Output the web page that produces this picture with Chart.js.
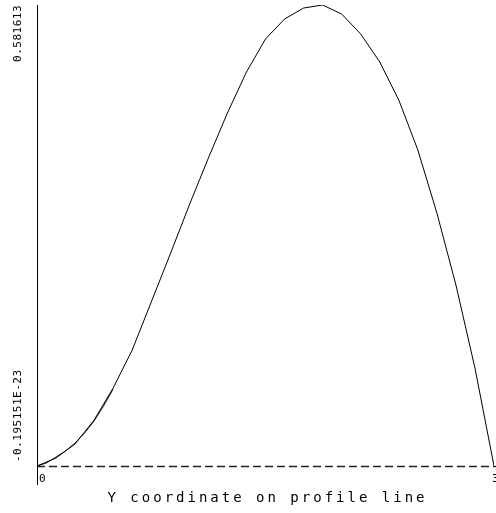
<!DOCTYPE html>
<html>
<head>
<meta charset="utf-8">
<script src="https://cdn.jsdelivr.net/npm/chart.js@4/dist/chart.umd.min.js"></script>
<style>
  html, body { margin: 0; padding: 0; background: #fff; }
  #wrap { width: 496px; height: 513px; }
</style>
</head>
<body>
<div id="wrap"><canvas id="myChart" width="496" height="513"></canvas></div>
<script>
// profile samples (Y coordinate on profile line)
const xValues = [0, 0.125, 0.25, 0.375, 0.5, 0.625, 0.75, 0.875, 1, 1.125, 1.25, 1.375, 1.5,
  1.625, 1.75, 1.875, 2, 2.125, 2.25, 2.375, 2.5, 2.625, 2.75, 2.875, 3];
const profileValues = [0, 0.0101, 0.0278, 0.058, 0.0984, 0.1463, 0.2069, 0.2675, 0.3293, 0.3886,
  0.4453, 0.4971, 0.5387, 0.5639, 0.5778, 0.5816, 0.5702, 0.545, 0.5097, 0.4617, 0.3987,
  0.3192, 0.2284, 0.1236, 0];
// second trace, only visibly apart near the start
const xValues2 = [0, 0.0625, 0.125, 0.1875, 0.25, 0.3125, 0.375, 0.4375, 0.5];
const profileValues2 = [0, 0.0038, 0.0114, 0.019, 0.029, 0.0416, 0.0568, 0.0757, 0.0971];

const yMin = -0.195151e-23;
const yMax = 0.581613;
const yTickLabels = ['-0.195151E-23', '0.581613'];
const xTickLabels = ['0', '3'];
const xTitle = 'Y coordinate on profile line';

function toPoints(xs, ys){
  let pts = [];
  for (let i = 0; i < xs.length; i++) {
    pts.push({x: xs[i], y: ys[i]});
  }
  return pts;
}

const plotFont = '"DejaVu Sans Mono", monospace';

// dashed zero line under the curve
const zeroLinePlugin = {
  id: 'zeroLine',
  beforeDatasetsDraw(chart){
    const ctx = chart.ctx;
    const xs = chart.scales.x;
    const ys = chart.scales.y;
    const y0 = Math.round(ys.getPixelForValue(0)) + 0.5;
    ctx.save();
    ctx.strokeStyle = '#222';
    ctx.lineWidth = 1.3;
    ctx.setLineDash([8, 4]);
    ctx.beginPath();
    ctx.moveTo(xs.left, y0);
    ctx.lineTo(chart.width, y0);
    ctx.stroke();
    ctx.restore();
  }
};

// draws the end labels and the axis title the old plotter way
const labelPlugin = {
  id: 'plotterLabels',
  afterDraw(chart){
    const ctx = chart.ctx;
    const xs = chart.scales.x;
    const ys = chart.scales.y;
    ctx.save();
    ctx.fillStyle = '#000';
    ctx.strokeStyle = '#000';
    ctx.lineWidth = 1;

    // y axis runs on a bit below the x axis
    ctx.beginPath();
    ctx.moveTo(xs.left + 0.5, ys.bottom);
    ctx.lineTo(xs.left + 0.5, ys.bottom + 19);
    ctx.stroke();

    ctx.font = '11px ' + plotFont;
    ctx.letterSpacing = '0.5px';

    // y labels, rotated
    ctx.save();
    ctx.translate(18, ys.getPixelForValue(yMin));
    ctx.rotate(-Math.PI / 2);
    ctx.textAlign = 'left';
    ctx.textBaseline = 'middle';
    ctx.fillText(yTickLabels[0], 4, 0);
    ctx.restore();

    ctx.save();
    ctx.translate(18, ys.getPixelForValue(yMax));
    ctx.rotate(-Math.PI / 2);
    ctx.textAlign = 'right';
    ctx.textBaseline = 'middle';
    ctx.fillText(yTickLabels[1], 0, 0);
    ctx.restore();

    // x labels
    ctx.letterSpacing = '0px';
    ctx.textBaseline = 'top';
    ctx.textAlign = 'left';
    ctx.fillText(xTickLabels[0], xs.getPixelForValue(0) + 2, ys.bottom + 8);
    ctx.fillText(xTickLabels[1], xs.getPixelForValue(3) - 2, ys.bottom + 8);

    // title
    ctx.font = '14px ' + plotFont;
    ctx.letterSpacing = '3px';
    ctx.textAlign = 'center';
    ctx.textBaseline = 'middle';
    ctx.fillText(xTitle, (xs.left + xs.right) / 2 + 2, ys.bottom + 32);
    ctx.restore();
  }
};

const config = {
  type: 'line',
  data: {
    datasets: [
      {
        label: 'profile',
        data: toPoints(xValues, profileValues),
        borderColor: '#000',
        borderWidth: 1,
        pointRadius: 0,
        tension: 0,
        fill: false
      },
      {
        label: 'profile 2',
        data: toPoints(xValues2, profileValues2),
        borderColor: '#222',
        borderWidth: 1,
        pointRadius: 0,
        tension: 0,
        fill: false
      }
    ]
  },
  options: {
    responsive: false,
    animation: false,
    devicePixelRatio: 1,
    layout: { padding: { left: 37, right: 2, top: 5, bottom: 47 } },
    plugins: {
      legend: { display: false },
      tooltip: { enabled: false }
    },
    scales: {
      x: {
        type: 'linear',
        min: 0,
        max: 3,
        grid: { display: false, drawTicks: false },
        ticks: { display: false },
        border: { display: false }
      },
      y: {
        type: 'linear',
        min: yMin,
        max: yMax,
        grid: { display: false, drawTicks: false },
        ticks: { display: false },
        border: { display: true, color: '#000', width: 1 }
      }
    }
  },
  plugins: [zeroLinePlugin, labelPlugin]
};

new Chart(document.getElementById('myChart'), config);
</script>
</body>
</html>
